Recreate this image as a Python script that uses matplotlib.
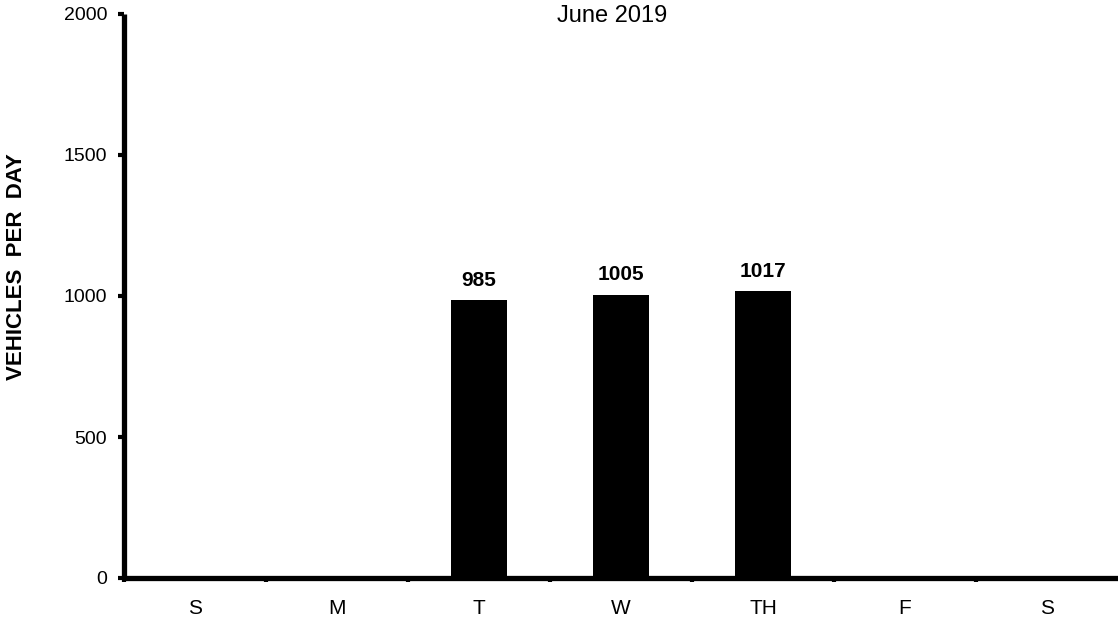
import numpy as np
import matplotlib
matplotlib.use("Agg")
import matplotlib.pyplot as plt

plt.rcParams['font.family'] = ['Liberation Sans', 'DejaVu Sans']

days = ["S", "M", "T", "W", "TH", "F", "S"]
volumes = [0, 0, 985, 1005, 1017, 0, 0]
y_ticks = [0, 500, 1000, 1500, 2000]

fig = plt.figure(figsize=(11.18, 6.22), dpi=100)
ax = fig.add_axes([124 / 1118, 44 / 622, 1 - 124 / 1118, 564 / 622])

x = np.arange(len(days))
ax.bar(x, volumes, width=0.4, color="black", zorder=3)

# daily totals above each counted day
for xi, v in zip(x, volumes):
    if v > 0:
        ax.text(xi, v + 50, str(v), ha="center", va="baseline",
                fontsize=15, fontweight="bold")

ax.set_xlim(-0.5, len(days) - 0.5)
ax.set_ylim(0, 2000)

for side in ["top", "right"]:
    ax.spines[side].set_visible(False)
for side in ["left", "bottom"]:
    ax.spines[side].set_linewidth(3.8)
    ax.spines[side].set_capstyle("butt")

ax.set_yticks(y_ticks)
ax.set_yticklabels([str(t) for t in y_ticks])
ax.tick_params(axis="y", length=4, width=3, labelsize=14, pad=8)

ax.set_xticks(x)
ax.set_xticklabels(days)
ax.set_xticks(np.arange(len(days)) - 0.5, minor=True)
ax.tick_params(axis="x", which="major", length=0, labelsize=15, pad=15)
ax.tick_params(axis="x", which="minor", length=3, width=3)

fig.text(17 / 1118, 1 - 267 / 622, "VEHICLES  PER  DAY", rotation=90,
         ha="center", va="center", fontsize=16, fontweight="bold")

fig.text(612 / 1118, 1 - 16 / 622, "June 2019", ha="center", va="center",
         fontsize=17)

fig.savefig("out.png", dpi=100)
